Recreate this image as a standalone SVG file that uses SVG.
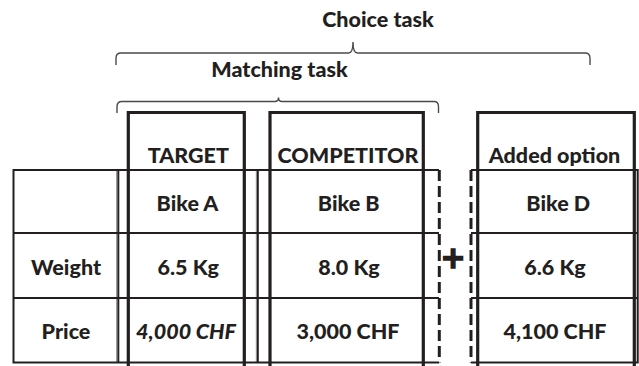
<svg xmlns="http://www.w3.org/2000/svg" width="639" height="366" viewBox="0 0 639 366">
<style>
  .t { font-family: Lato, "Open Sans", "Liberation Sans", sans-serif; font-weight: 900; font-size: 21.5px; fill: #231f20; text-anchor: middle; }
  .it { font-style: italic; }
  .brace { fill: none; stroke: #4a4a4a; stroke-width: 1.4; }
  .thin { fill: none; stroke: #231f20; stroke-width: 2; }
  .gray { fill: none; stroke: #9a9a9a; stroke-width: 1; }
  .thick { fill: none; stroke: #231f20; stroke-width: 3.2; stroke-linejoin: miter; }
  .dash { fill: none; stroke: #231f20; stroke-width: 3; stroke-dasharray: 11 5; }
</style>
<rect width="639" height="366" fill="#ffffff"/>

<g id="choice-task">
  <text class="t" x="378" y="27">Choice task</text>
  <path class="brace" d="M116,65 L116,58 Q116,53 121,53 L348.5,53 Q353,53 353,42 Q353,53 357.5,53 L585,53 Q590,53 590,58 L590,65"/>
</g>

<g id="matching-task">
  <text class="t" x="279.5" y="76.7">Matching task</text>
  <path class="brace" d="M117,113 L117,106.5 Q117,101.5 122,101.5 L275,101.5 Q278.5,101.5 278.5,97.5 Q278.5,101.5 282,101.5 L434,101.5 Q438.5,101.5 438.5,106.5 L438.5,113"/>
</g>

<g id="table-grid">
  <path class="gray" d="M116.5,170 V362.5 M256.3,170 V362.5"/>
  <path class="thin" d="M13.5,170 H439 M13.5,233 H439 M13.5,298 H439 M13.5,362.5 H439 M13.5,169 V363.5 M118.3,170 V362.5 M257.8,170 V362.5"/>
  <path class="thin" d="M471,170 H638 M471,233 H638 M471,298 H638 M471,362.5 H638 M637.7,169 V363.5"/>
  <path class="dash" d="M439.3,170 V362.5 M471,170 V362.5"/>
</g>

<g id="target">
  <path class="thick" d="M128.3,370 V112.5 H244.3 V370"/>
  <text class="t" x="188.3" y="163.3">TARGET</text>
  <text class="t" x="187.5" y="211">Bike A</text>
  <text class="t" x="188.3" y="274.5">6.5 Kg</text>
  <text class="t it" x="186" y="339.3">4,000 CHF</text>
</g>

<g id="competitor">
  <path class="thick" d="M270,370 V112.5 H423.3 V370"/>
  <text class="t" x="348" y="163.3">COMPETITOR</text>
  <text class="t" x="348.7" y="211">Bike B</text>
  <text class="t" x="349" y="274.5">8.0 Kg</text>
  <text class="t" x="348" y="339.3">3,000 CHF</text>
</g>

<g id="added-option">
  <path class="thick" d="M477.7,370 V112.5 H634.3 V370"/>
  <text class="t" x="554.5" y="163.3">Added option</text>
  <text class="t" x="558.3" y="211">Bike D</text>
  <text class="t" x="555" y="274.5">6.6 Kg</text>
  <text class="t" x="555" y="339.3">4,100 CHF</text>
</g>

<g id="row-labels">
  <text class="t" x="66" y="274.5">Weight</text>
  <text class="t" x="66" y="339.3">Price</text>
</g>

<g id="plus">
  <text x="453" y="268" font-family="'DejaVu Sans', sans-serif" font-weight="bold" font-size="30" fill="#231f20" stroke="#231f20" stroke-width="1.6" text-anchor="middle">+</text>
</g>
</svg>
